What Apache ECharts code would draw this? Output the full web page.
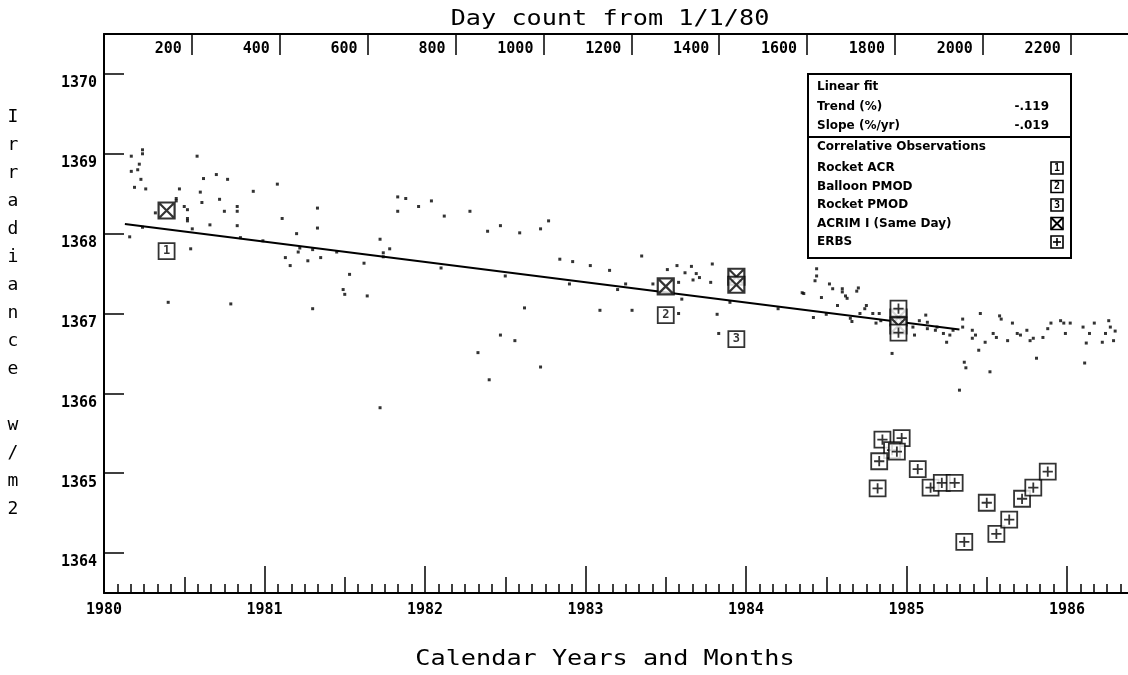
<!DOCTYPE html>
<html>
<head>
<meta charset="utf-8">
<script src="https://cdn.jsdelivr.net/npm/echarts@6/dist/echarts.min.js"></script>
<style>
  html, body { margin: 0; padding: 0; background: #fff; }
  #main { width: 1128px; height: 675px; }
</style>
</head>
<body>
<div id="main"></div>
<script>
  // ACRIM daily points [year, W/m2]
  var acrimDaily = [
    [1980.17,1368.97],[1980.24,1369.05],[1980.24,1369.00],[1980.22,1368.87],[1980.21,1368.80],[1980.17,1368.78],
    [1980.23,1368.68],[1980.19,1368.58],[1980.26,1368.56],[1980.32,1368.26],[1980.45,1368.44],[1980.45,1368.41],
    [1980.50,1368.34],[1980.52,1368.30],[1980.52,1368.19],[1980.52,1368.16],[1980.58,1368.97],[1980.47,1368.56],
    [1980.60,1368.52],[1980.61,1368.39],[1980.62,1368.69],[1980.70,1368.74],[1980.72,1368.43],[1980.77,1368.68],
    [1980.75,1368.28],[1980.83,1368.34],[1980.83,1368.28],[1980.93,1368.53],[1980.83,1368.10],[1980.66,1368.11],
    [1980.54,1367.81],[1980.16,1367.96],[1980.40,1367.14],[1980.79,1367.12],[1981.08,1368.62],[1981.11,1368.19],
    [1981.33,1368.32],[1981.33,1368.07],[1981.20,1368.00],[1981.13,1367.70],[1981.16,1367.60],[1981.27,1367.66],
    [1981.35,1367.70],[1981.21,1367.77],[1981.53,1367.49],[1981.49,1367.30],[1981.50,1367.24],[1981.64,1367.22],
    [1981.62,1367.63],[1981.30,1367.06],[1981.72,1367.93],[1981.78,1367.81],[1981.74,1367.76],[1981.83,1368.28],
    [1981.83,1368.46],
    [1980.24,1368.08],[1980.55,1368.06],[1980.85,1367.95],[1980.99,1367.91],[1981.22,1367.82],[1981.30,1367.80],
    [1981.45,1367.77],[1981.74,1367.71],
    [1981.88,1368.44],[1981.96,1368.34],[1982.04,1368.41],[1982.12,1368.22],[1982.28,1368.28],[1982.39,1368.03],
    [1982.47,1368.10],[1982.59,1368.01],[1982.72,1368.06],[1982.77,1368.16],[1982.84,1367.68],[1982.92,1367.65],
    [1983.03,1367.60],[1983.15,1367.54],[1983.25,1367.37],[1982.33,1366.51],[1982.47,1366.73],[1982.62,1367.07],
    [1982.56,1366.66],[1982.72,1366.33],[1983.09,1367.04],[1981.72,1365.82],[1982.40,1366.17],
    [1982.10,1367.57],[1982.50,1367.47],[1982.90,1367.37],[1983.20,1367.30],[1983.60,1367.18],[1983.90,1367.14],
    [1984.20,1367.06],[1984.50,1366.99],
    [1983.35,1367.72],[1983.51,1367.55],[1983.57,1367.60],[1983.62,1367.51],[1983.66,1367.59],[1983.69,1367.50],
    [1983.71,1367.45],[1983.67,1367.42],[1983.78,1367.39],[1983.79,1367.62],[1983.58,1367.39],[1983.42,1367.37],
    [1983.29,1367.04],[1983.58,1367.00],[1983.82,1366.99],[1983.83,1366.75],[1984.35,1367.26],[1984.42,1366.95],
    [1984.44,1367.47],[1984.44,1367.56],[1984.43,1367.41],
    [1984.52,1367.37],[1984.54,1367.31],[1984.60,1367.31],[1984.60,1367.27],[1984.70,1367.32],[1984.69,1367.28],
    [1984.47,1367.20],[1984.57,1367.10],[1984.63,1367.19],[1984.62,1367.22],[1984.36,1367.25],[1984.75,1367.10],
    [1984.74,1367.06],[1984.71,1367.00],[1984.65,1366.94],[1984.66,1366.90],[1984.79,1367.00],[1984.81,1366.88],
    [1984.83,1367.00],[1984.84,1366.91],[1984.91,1366.50],[1985.04,1366.83],[1985.05,1366.73],[1985.08,1366.91],
    [1985.12,1366.98],[1985.13,1366.89],[1985.13,1366.81],[1985.18,1366.79],[1985.19,1366.83],[1985.23,1366.75],
    [1985.25,1366.64],[1985.27,1366.73],[1985.29,1366.79],[1985.35,1366.83],[1985.35,1366.93],[1985.36,1366.39],
    [1985.37,1366.32],[1985.33,1366.04],[1985.41,1366.79],[1985.43,1366.73],[1985.41,1366.69],[1985.45,1366.54],
    [1985.46,1367.00],[1985.49,1366.64],[1985.52,1366.27],[1985.54,1366.75],[1985.56,1366.70],[1985.58,1366.97],
    [1985.59,1366.93],[1985.63,1366.66],[1985.66,1366.88],[1985.69,1366.75],[1985.71,1366.73],[1985.75,1366.79],
    [1985.77,1366.66],[1985.79,1366.69],[1985.81,1366.44],[1985.85,1366.70],[1985.88,1366.81],[1985.90,1366.88],
    [1985.96,1366.91],[1985.98,1366.88],[1985.99,1366.75],[1986.02,1366.88],[1986.11,1366.38],[1986.10,1366.83],
    [1986.12,1366.63],[1986.14,1366.75],[1986.17,1366.88],[1986.22,1366.64],[1986.24,1366.75],[1986.26,1366.91],
    [1986.27,1366.83],[1986.29,1366.66],[1986.30,1366.78]
  ]
  var fitLine = [[1980.13,1368.12],[1985.33,1366.80]]
  var rocketAcr = [[1980.39,1367.78]]
  var balloonPmod = [[1983.50,1366.98]]
  var rocketPmod = [[1983.94,1366.68]]
  var acrimSameDay = [[1980.39,1368.29],[1983.50,1367.34],[1983.94,1367.46],[1983.94,1367.36],[1984.95,1366.95],[1984.95,1366.85]]
  var erbs = [
    [1984.95,1367.06],[1984.95,1366.76],[1984.85,1365.42],[1984.97,1365.44],[1984.91,1365.29],[1984.94,1365.27],
    [1984.83,1365.15],[1984.82,1364.81],[1985.07,1365.05],[1985.15,1364.82],[1985.22,1364.88],[1985.30,1364.88],
    [1985.50,1364.63],[1985.36,1364.14],[1985.56,1364.24],[1985.64,1364.42],[1985.72,1364.68],[1985.79,1364.82],
    [1985.88,1365.02]
  ]
  var legendRows = ['Rocket ACR', 'Balloon PMOD', 'Rocket PMOD', 'ACRIM I (Same Day)', 'ERBS']
  var fitStats = [['Trend (%)', '-.119'], ['Slope (%/yr)', '-.019']]

  var MONO = 'DejaVu Sans Mono'
  var boxPath = 'path://M0,0H10V10H0Z'
  var crossPath = 'path://M0,0H10V10H0Z M0,0L10,10 M10,0L0,10'
  var plusPath = 'path://M0,0H10V10H0Z M5,1.8V8.2 M1.8,5H8.2'

  var numbered = function(data, txt) {
    return {
      type: 'scatter', data: data, symbol: boxPath, symbolSize: 16, z: 5,
      itemStyle: { color: '#fff', borderColor: '#000', borderWidth: 1.8 },
      label: { show: true, position: 'inside', formatter: txt, color: '#000',
        fontFamily: MONO, fontWeight: 'bold', fontSize: 12 }
    }
  }

  // legend box
  var lx = 808, ly = 74, lw = 263, lh = 184
  var legendFont = { fontSize: 12, fontWeight: 'bold', fontFamily: 'DejaVu Sans', verticalAlign: 'middle' }
  var txt = function(x, y, s, extra) {
    return { type: 'text', x: x, y: y, z: 11, style: Object.assign({ text: s }, legendFont, extra || {}) }
  }
  var legendEls = [
    { type: 'rect', shape: { x: lx, y: ly, width: lw, height: lh }, style: { fill: '#fff', stroke: '#000', lineWidth: 2 }, z: 10 },
    { type: 'line', shape: { x1: lx, y1: 137, x2: lx + lw, y2: 137 }, style: { stroke: '#000', lineWidth: 2 }, z: 10 },
    txt(817, 87, 'Linear fit'),
    txt(817, 147, 'Correlative Observations')
  ]
  fitStats.forEach(function(r, i) {
    var yy = 107 + i * 19
    legendEls.push(txt(817, yy, r[0]))
    legendEls.push(txt(1049, yy, r[1], { align: 'right' }))
  })
  legendRows.forEach(function(name, i) {
    var yy = 168 + i * 18.5
    legendEls.push(txt(817, yy, name))
    var sx = 1051, sy = yy - 6
    legendEls.push({ type: 'rect', shape: { x: sx, y: sy, width: 12, height: 12 }, style: { fill: '#fff', stroke: '#000', lineWidth: 1.6 }, z: 11 })
    if (i < 3) {
      legendEls.push({ type: 'text', x: sx + 6, y: yy, style: { text: String(i + 1), fontSize: 10, fontWeight: 'bold', fontFamily: MONO, align: 'center', verticalAlign: 'middle' }, z: 12 })
    } else if (i === 3) {
      legendEls.push({ type: 'line', shape: { x1: sx, y1: sy, x2: sx + 12, y2: sy + 12 }, style: { stroke: '#000', lineWidth: 2 }, z: 12 })
      legendEls.push({ type: 'line', shape: { x1: sx + 12, y1: sy, x2: sx, y2: sy + 12 }, style: { stroke: '#000', lineWidth: 2 }, z: 12 })
    } else {
      legendEls.push({ type: 'line', shape: { x1: sx + 6, y1: sy + 2, x2: sx + 6, y2: sy + 10 }, style: { stroke: '#000', lineWidth: 1.6 }, z: 12 })
      legendEls.push({ type: 'line', shape: { x1: sx + 2, y1: sy + 6, x2: sx + 10, y2: sy + 6 }, style: { stroke: '#000', lineWidth: 1.6 }, z: 12 })
    }
  })

  var myChart = echarts.init(document.getElementById('main'))
  var isWhole = function(v) { return Math.abs(v - Math.round(v)) < 1e-6 }

  // the plot runs past the right edge of the page (axes go to 1987, page cuts at ~1986.38)
  var option = {
    animation: false,
    backgroundColor: '#fff',
    grid: [
      { left: 104, width: 1123.5, top: 34, height: 559, outerBoundsMode: 'none', containLabel: false },
      { left: 104, width: 1123.5, top: 34, height: 559, outerBoundsMode: 'none', containLabel: false }
    ],
    xAxis: [
      {
        type: 'value', gridIndex: 0, position: 'bottom', min: 1980, max: 1987, interval: 1,
        axisLine: { lineStyle: { color: '#000', width: 2 } },
        axisTick: { inside: true, length: 27, lineStyle: { color: '#000', width: 1.5 } },
        minorTick: { show: true, splitNumber: 12, length: 9, lineStyle: { color: '#000', width: 1.5 } },
        axisLabel: { margin: 10, color: '#000', fontFamily: MONO, fontWeight: 'bold', fontSize: 15,
          formatter: function(v) { return v <= 1986 && isWhole(v) ? String(Math.round(v)) : '' } },
        splitLine: { show: false }
      },
      {
        type: 'value', gridIndex: 0, position: 'top', min: 0, max: 2556.75, interval: 200,
        axisLine: { lineStyle: { color: '#000', width: 2 } },
        axisTick: { inside: true, length: 21, lineStyle: { color: '#000', width: 1.5 } },
        axisLabel: { inside: true, margin: 8, align: 'right', verticalAlign: 'top', padding: [0, 10, 0, 0],
          color: '#000', fontFamily: MONO, fontWeight: 'bold', fontSize: 15, showMinLabel: false,
          formatter: function(v) { return v > 0 && v <= 2200 ? String(v) : '' } },
        splitLine: { show: false }
      },
      {
        type: 'value', gridIndex: 1, position: 'bottom', min: 1980, max: 1987, interval: 0.5,
        axisLine: { show: false },
        axisTick: { inside: true, length: 16, lineStyle: { color: '#000', width: 1.5 } },
        axisLabel: { show: false },
        splitLine: { show: false }
      }
    ],
    yAxis: [
      {
        type: 'value', gridIndex: 0, min: 1363.5, max: 1370.5,
        axisLine: { show: true, lineStyle: { color: '#000', width: 2 } },
        axisTick: { show: true, inside: true, length: 20, lineStyle: { color: '#000', width: 1.5 } },
        axisLabel: { margin: 7, verticalAlign: 'top', padding: [2, 0, 0, 0], color: '#000',
          fontFamily: MONO, fontWeight: 'bold', fontSize: 15,
          formatter: function(v) { return isWhole(v) ? String(Math.round(v)) : '' } },
        splitLine: { show: false }
      },
      { type: 'value', gridIndex: 1, min: 1363.5, max: 1370.5, show: false }
    ],
    graphic: [
      { type: 'text', x: 610, y: 20, scaleX: 1.2, style: { text: 'Day count from 1/1/80', fontFamily: MONO, fontSize: 21, fill: '#000', align: 'center', verticalAlign: 'middle' } },
      { type: 'text', x: 605, y: 660, scaleX: 1.2, style: { text: 'Calendar Years and Months', fontFamily: MONO, fontSize: 21, fill: '#000', align: 'center', verticalAlign: 'middle' } },
      { type: 'text', x: 13, y: 103, style: { text: 'I\nr\nr\na\nd\ni\na\nn\nc\ne\n \nw\n/\nm\n2', fontFamily: MONO, fontSize: 18, lineHeight: 28, fill: '#000', align: 'center', verticalAlign: 'top' } }
    ].concat(legendEls),
    series: [
      {
        name: 'ACRIM', type: 'scatter', xAxisIndex: 0, yAxisIndex: 0, data: acrimDaily,
        symbol: 'rect', symbolSize: 3, itemStyle: { color: '#000' }, z: 2
      },
      {
        name: 'Linear fit', type: 'line', xAxisIndex: 0, yAxisIndex: 0, data: fitLine,
        symbol: 'none', lineStyle: { color: '#000', width: 2 }, z: 3
      },
      numbered(rocketAcr, '1'),
      numbered(balloonPmod, '2'),
      numbered(rocketPmod, '3'),
      {
        name: 'ACRIM I (Same Day)', type: 'scatter', data: acrimSameDay, symbol: crossPath, symbolSize: 16, z: 6,
        itemStyle: { color: '#fff', borderColor: '#000', borderWidth: 2.2 }
      },
      {
        name: 'ERBS', type: 'scatter', data: erbs, symbol: plusPath, symbolSize: 16, z: 6,
        itemStyle: { color: '#fff', borderColor: '#000', borderWidth: 1.8 }
      }
    ]
  }

  myChart.setOption(option)
</script>
</body>
</html>
